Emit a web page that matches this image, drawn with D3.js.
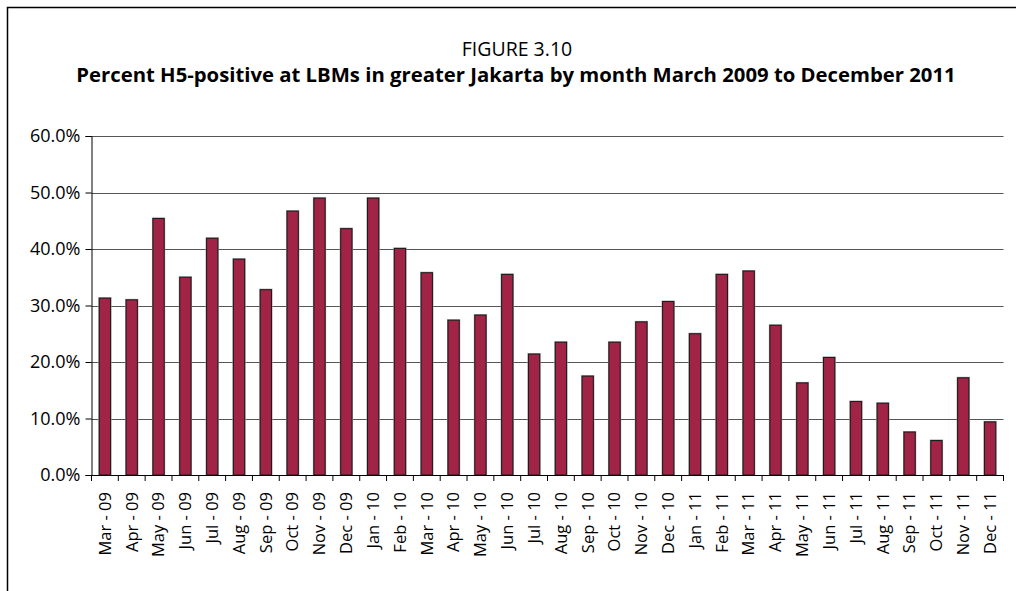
<!DOCTYPE html>
<html>
<head>
<meta charset="utf-8">
<script src="https://cdn.jsdelivr.net/npm/d3@7"></script>
<style>
	body { margin: 0; background: #fff; }
	text { font-family: "Open Sans", "DejaVu Sans", sans-serif; fill: #000; }
</style>
</head>
<body>
<svg id="chart" width="1016" height="591" viewBox="0 0 1016 591"></svg>
<script>

// months shown on the x axis
const months = ["Mar - 09", "Apr - 09", "May - 09", "Jun - 09", "Jul - 09", "Aug - 09", "Sep - 09",
	"Oct - 09", "Nov - 09", "Dec - 09", "Jan - 10", "Feb - 10", "Mar - 10", "Apr - 10", "May - 10",
	"Jun - 10", "Jul - 10", "Aug - 10", "Sep - 10", "Oct - 10", "Nov - 10", "Dec - 10", "Jan - 11",
	"Feb - 11", "Mar - 11", "Apr - 11", "May - 11", "Jun - 11", "Jul - 11", "Aug - 11", "Sep - 11",
	"Oct - 11", "Nov - 11", "Dec - 11"];

// percent H5-positive
const percentPositive = [31.3, 31.0, 45.4, 35.0, 41.9, 38.2, 32.8, 46.7, 49.0, 43.6, 49.0, 40.1,
	35.8, 27.4, 28.3, 35.5, 21.4, 23.5, 17.5, 23.5, 27.1, 30.7, 25.0, 35.5, 36.1, 26.5, 16.3,
	20.8, 13.0, 12.7, 7.6, 6.1, 17.2, 9.4];

const yTicks = [0, 10, 20, 30, 40, 50, 60];

const figureLabel = "FIGURE 3.10";
const titleText = "Percent H5-positive at LBMs in greater Jakarta by month March 2009 to December 2011";

const svg = d3.select("#chart");

// outer frame (left and top edges visible)
svg.append("path")
	.attr("d", "M7.5,591 L7.5,7.5 L1016,7.5")
	.attr("fill", "none")
	.attr("stroke", "#000")
	.attr("stroke-width", 1.5);

svg.append("text")
	.attr("x", 517).attr("y", 56)
	.attr("text-anchor", "middle")
	.style("font-size", "19.5px")
	.text(figureLabel);

const title = svg.append("text")
	.attr("x", 516).attr("y", 82)
	.attr("text-anchor", "middle")
	.style("font-size", "18px")
	.style("font-weight", "bold")
	.text(titleText);

// fit the title to the width it takes in the figure
const tw = title.node().getComputedTextLength();
title.style("font-size", (18 * 880 / tw).toFixed(2) + "px");

const margin = { left: 91.5, right: 1003.5, top: 136, bottom: 475 };

const x = d3.scaleBand()
	.domain(months)
	.range([margin.left, margin.right])
	.paddingInner(0.58)
	.paddingOuter(0.29);

const y = d3.scaleLinear()
	.domain([0, 60])
	.range([margin.bottom, margin.top]);

// gridlines
svg.append("g")
	.selectAll("line")
	.data(yTicks.filter(d => d > 0))
	.enter().append("line")
	.attr("x1", margin.left).attr("x2", margin.right)
	.attr("y1", d => Math.round(y(d)) + 0.5).attr("y2", d => Math.round(y(d)) + 0.5)
	.attr("stroke", "#555")
	.attr("stroke-width", 1.2);

// bars with a soft shadow
const bars = svg.append("g");
bars.selectAll("rect.shadow")
	.data(percentPositive)
	.enter().append("rect")
	.attr("class", "shadow")
	.attr("x", (d, i) => x(months[i]) - 1)
	.attr("y", d => y(d) - 1)
	.attr("width", x.bandwidth() + 2)
	.attr("height", d => y(0) - y(d) + 1)
	.attr("fill", "#9a9a9a");

bars.selectAll("rect.bar")
	.data(percentPositive)
	.enter().append("rect")
	.attr("class", "bar")
	.attr("x", (d, i) => x(months[i]))
	.attr("y", d => y(d))
	.attr("width", x.bandwidth())
	.attr("height", d => y(0) - y(d))
	.attr("fill", "#A12346")
	.attr("stroke", "#1a1a1a")
	.attr("stroke-width", 1);

// y axis
const yAxis = svg.append("g")
	.attr("transform", `translate(${margin.left},0)`)
	.call(d3.axisLeft(y).tickValues(yTicks).tickSize(6).tickPadding(5)
		.tickFormat(d => d.toFixed(1) + "%"));
yAxis.select(".domain").attr("stroke", "#000");
yAxis.selectAll(".tick line").attr("stroke", "#000");
yAxis.selectAll("text").style("font-size", "18px").attr("fill", "#000");

// x axis, ticks between categories
const xAxis = svg.append("g")
	.attr("transform", `translate(0,${margin.bottom})`)
	.call(d3.axisBottom(x).tickSize(0).tickSizeOuter(0).tickPadding(0));
xAxis.select(".domain").attr("stroke", "#000").attr("stroke-width", 1.2);
xAxis.selectAll(".tick text")
	.attr("transform", "rotate(-90)")
	.attr("text-anchor", "end")
	.attr("x", -17)
	.attr("y", 0)
	.attr("dy", "0.35em")
	.style("font-size", "16.5px")
	.attr("fill", "#000");

const step = x.step();
svg.append("g")
	.selectAll("line")
	.data(d3.range(months.length + 1))
	.enter().append("line")
	.attr("x1", i => margin.left + i * step).attr("x2", i => margin.left + i * step)
	.attr("y1", margin.bottom).attr("y2", margin.bottom + 6)
	.attr("stroke", "#000");

</script>
</body>
</html>
